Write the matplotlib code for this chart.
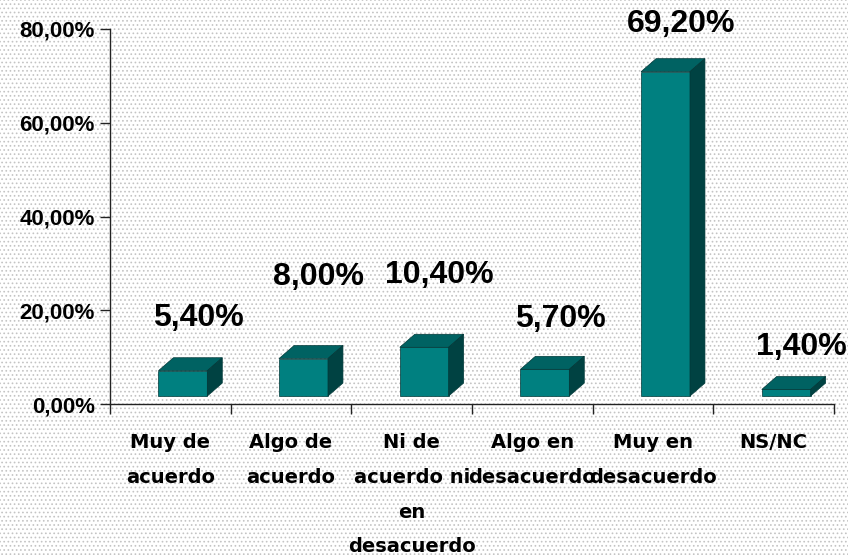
import matplotlib
matplotlib.use("Agg")
import matplotlib.pyplot as plt
from matplotlib.patches import Polygon, Rectangle
from matplotlib.ticker import FixedLocator, FuncFormatter

# Data
categories = [
    "Muy de\nacuerdo",
    "Algo de\nacuerdo",
    "Ni de\nacuerdo ni\nen\ndesacuerdo",
    "Algo en\ndesacuerdo",
    "Muy en\ndesacuerdo",
    "NS/NC",
]
values = [5.4, 8.0, 10.4, 5.7, 69.2, 1.4]
value_labels = ["5,40%", "8,00%", "10,40%", "5,70%", "69,20%", "1,40%"]
y_ticks = [0, 20, 40, 60, 80]

# Layout: how far (in % points) each value label sits above its bar
label_lift = [11.2, 17.4, 15.4, 10.7, 10.1, 9.1]

# Pseudo-3D box geometry (data units)
BAR_W = 0.405
SHIFT = 0.104
DX = 0.124
DY = 2.77
FLOOR = 1.7

FRONT = "#008080"
TOP = "#006262"
SIDE = "#004242"
EDGE = "#003838"

plt.rcParams["hatch.linewidth"] = 0.7

fig = plt.figure(figsize=(8.48, 5.55), dpi=100)
fig.patch.set_facecolor("white")
# dotted background texture
fig.add_artist(Rectangle((0, 0), 1, 1, transform=fig.transFigure, facecolor="white",
                         edgecolor="#c4c4c4", linewidth=0, hatch="....", zorder=-10))

ax = fig.add_axes([110 / 848, 1 - 404 / 555, 724 / 848, 375 / 555])
ax.set_facecolor("none")

for i, v in enumerate(values):
    x0 = i + SHIFT - BAR_W / 2
    x1 = x0 + BAR_W
    y1 = FLOOR + v
    ax.bar(i + SHIFT, v, width=BAR_W, bottom=FLOOR, color=FRONT,
           edgecolor=EDGE, linewidth=0.5, zorder=3)
    top = Polygon([(x0, y1), (x1, y1), (x1 + DX, y1 + DY), (x0 + DX, y1 + DY)],
                  closed=True, facecolor=TOP, edgecolor=EDGE, linewidth=0.5, zorder=3)
    side = Polygon([(x1, FLOOR), (x1 + DX, FLOOR + DY), (x1 + DX, y1 + DY), (x1, y1)],
                   closed=True, facecolor=SIDE, edgecolor=EDGE, linewidth=0.5, zorder=3)
    ax.add_patch(top)
    ax.add_patch(side)
    ax.text(i + 0.23, v + label_lift[i], value_labels[i], ha="center", va="baseline",
            fontsize=23, fontweight="bold", family="Liberation Sans", zorder=4,
            clip_on=False)

ax.set_xlim(-0.5, len(values) - 0.5)
ax.set_ylim(0, 80)

for side_name in ("top", "right"):
    ax.spines[side_name].set_visible(False)
for side_name in ("left", "bottom"):
    ax.spines[side_name].set_color("#222222")
    ax.spines[side_name].set_linewidth(1.0)

ax.set_yticks(y_ticks)
ax.yaxis.set_major_formatter(FuncFormatter(lambda v, _: f"{v:.2f}".replace(".", ",") + "%"))
ax.tick_params(axis="y", length=7, width=1, color="#222222", pad=4)
for lbl in ax.get_yticklabels():
    lbl.set_fontfamily("Liberation Sans")
    lbl.set_fontweight("bold")
    lbl.set_fontsize(16)

ax.set_xticks(range(len(categories)))
ax.set_xticklabels(categories, fontsize=14, fontweight="bold",
                   family="DejaVu Sans", linespacing=2.05)
ax.xaxis.set_minor_locator(FixedLocator([i - 0.5 for i in range(len(categories) + 1)]))
ax.tick_params(axis="x", which="major", length=0, pad=21)
ax.tick_params(axis="x", which="minor", length=7, width=1, color="#222222")

fig.savefig("out.png", dpi=100)
